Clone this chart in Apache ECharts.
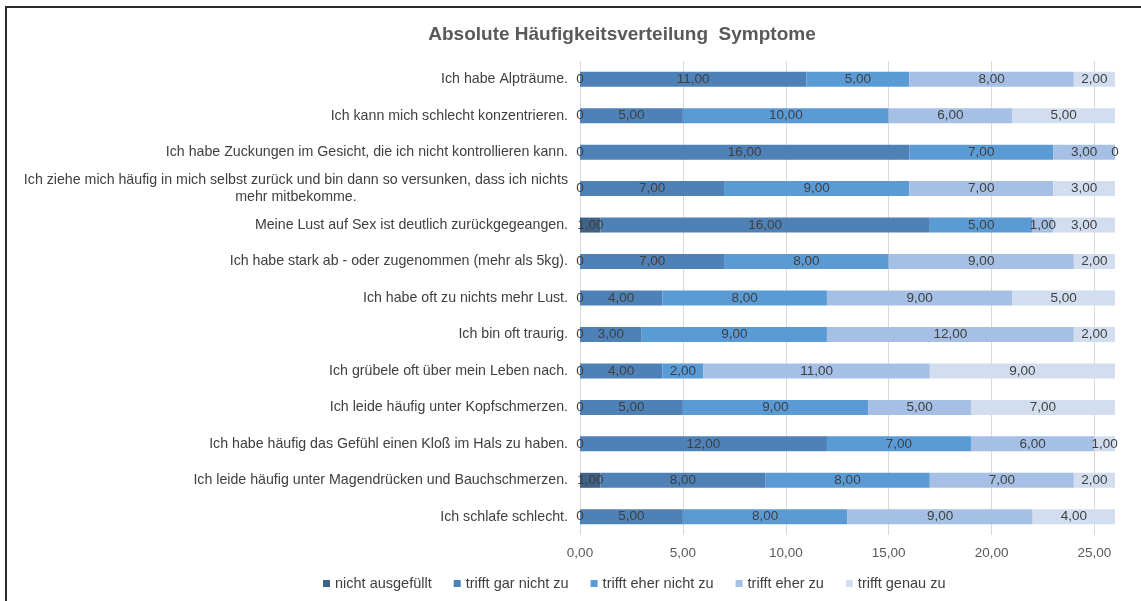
<!DOCTYPE html>
<html>
<head>
<meta charset="utf-8">
<script src="https://cdn.jsdelivr.net/npm/echarts@6/dist/echarts.min.js"></script>
<style>
  html, body { margin: 0; padding: 0; background: #fff; }
  #chart { width: 1141px; height: 601px; }
  .frame {
    position: absolute; left: 5px; top: 6px; width: 1200px; height: 700px;
    border-top: 2px solid #2b2b2b; border-left: 2px solid #2b2b2b;
    pointer-events: none;
  }
</style>
</head>
<body>
<div id="chart"></div>
<div class="frame"></div>
<script>
// Kategorien (von oben nach unten)
var categories = [
  "Ich habe Alpträume.",
  "Ich kann mich schlecht konzentrieren.",
  "Ich habe Zuckungen im Gesicht, die ich nicht kontrollieren kann.",
  "Ich ziehe mich häufig in mich selbst zurück und bin dann so versunken, dass ich nichts\nmehr mitbekomme.",
  "Meine Lust auf Sex ist deutlich zurückgegeangen.",
  "Ich habe stark ab - oder zugenommen (mehr als 5kg).",
  "Ich habe oft zu nichts mehr Lust.",
  "Ich bin oft traurig.",
  "Ich grübele oft über mein Leben nach.",
  "Ich leide häufig unter Kopfschmerzen.",
  "Ich habe häufig das Gefühl einen Kloß im Hals zu haben.",
  "Ich leide häufig unter Magendrücken und Bauchschmerzen.",
  "Ich schlafe schlecht."
];

var seriesNames = ["nicht ausgefüllt", "trifft gar nicht zu", "trifft eher nicht zu", "trifft eher zu", "trifft genau zu"];

var nichtAusgefuellt = [0, 0, 0, 0, 1, 0, 0, 0, 0, 0, 0, 1, 0];
var garNicht        = [11, 5, 16, 7, 16, 7, 4, 3, 4, 5, 12, 8, 5];
var eherNicht       = [5, 10, 7, 9, 5, 8, 8, 9, 2, 9, 7, 8, 8];
var eherZu          = [8, 6, 3, 7, 1, 9, 9, 12, 11, 5, 6, 7, 9];
var genauZu         = [2, 5, 0, 3, 3, 2, 5, 2, 9, 7, 1, 2, 4];

var colors = ["#3e6288", "#4e81b6", "#5b9bd5", "#a5c0e4", "#d2deef"];
var font = "Liberation Sans, Arial";

function fmt(v) {
  if (v === 0) return "0";
  return v.toFixed(2).replace(".", ",");
}

var chart = echarts.init(document.getElementById("chart"));
var values = [nichtAusgefuellt, garNicht, eherNicht, eherZu, genauZu];

var series = values.map(function (d, i) {
  return {
    name: seriesNames[i],
    type: "bar",
    stack: "total",
    barWidth: 15,
    data: d,
    itemStyle: { color: colors[i] },
    label: {
      show: true,
      position: "inside",
      color: "#404040",
      fontSize: 13.5,
      fontFamily: font,
      formatter: function (p) { return fmt(p.value); }
    }
  };
});

chart.setOption({
  animation: false,
  title: {
    text: "Absolute Häufigkeitsverteilung  Symptome",
    left: 617,
    textAlign: "center",
    top: 20,
    textStyle: {
      color: "#595959",
      fontSize: 19,
      fontWeight: "bold",
      fontFamily: font
    }
  },
  legend: {
    bottom: 5,
    left: 318,
    itemWidth: 7,
    itemHeight: 7,
    itemGap: 22,
    itemTextGap: 3,
    icon: "rect",
    textStyle: { color: "#404040", fontSize: 14.5, fontFamily: font },
    data: seriesNames
  },
  grid: {
    left: 580,
    right: 26,
    top: 61,
    bottom: 66,
    containLabel: false
  },
  xAxis: {
    type: "value",
    min: 0,
    max: 26,
    interval: 5,
    axisLine: { show: false },
    axisTick: { show: false },
    splitLine: {
      show: true,
      lineStyle: { color: ["#d9d9d9", "#d9d9d9", "#d9d9d9", "#d9d9d9", "#d9d9d9", "#d9d9d9", "rgba(0,0,0,0)"] }
    },
    axisLabel: {
      showMaxLabel: false,
      color: "#595959",
      fontSize: 13.5,
      fontFamily: font,
      margin: 11,
      formatter: function (v) { return v === 26 ? "" : v.toFixed(2).replace(".", ","); }
    }
  },
  yAxis: {
    type: "category",
    inverse: true,
    data: categories,
    axisLine: { show: false },
    axisTick: { show: false },
    axisLabel: {
      color: "#404040",
      fontSize: 14.2,
      fontFamily: font,
      margin: 12,
      lineHeight: 17,
      formatter: function (v) {
        return v.split("\n").map(function (s) { return "{c|" + s + "}"; }).join("\n");
      },
      rich: { c: { align: "center", fontSize: 14.2, color: "#404040", lineHeight: 17, fontFamily: font } }
    }
  },
  series: series
});
</script>
</body>
</html>
